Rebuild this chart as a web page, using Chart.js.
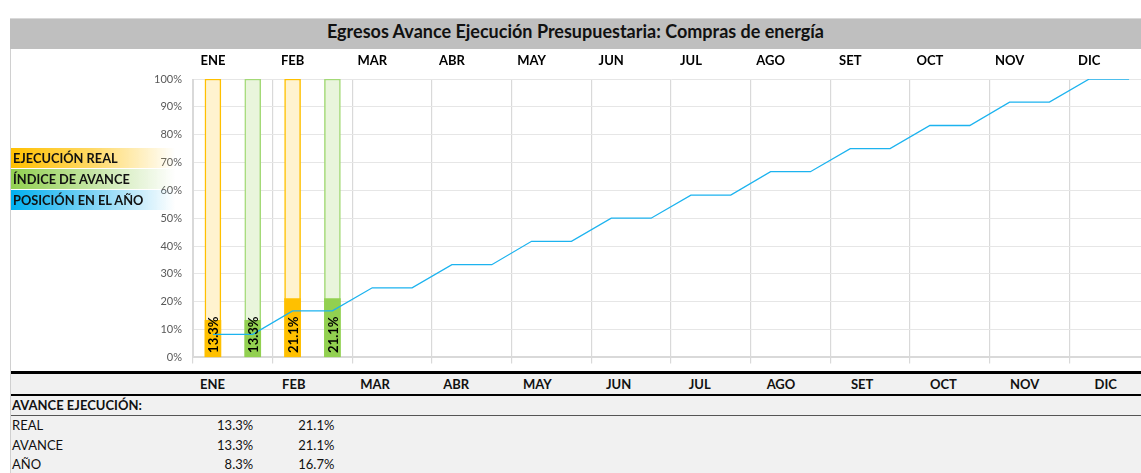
<!DOCTYPE html>
<html>
<head>
<meta charset="utf-8">
<script src="https://cdn.jsdelivr.net/npm/chart.js@4.4.1/dist/chart.umd.min.js"></script>
<style>
  body { margin: 0; width: 1141px; height: 473px; overflow: hidden; background: #fff; font-family: Lato, "Open Sans", sans-serif; position: relative; }
  #frame { position: absolute; left: 10px; top: 18px; width: 1131px; height: 455px; border-left: 1px solid #d0d0d0; }
  #title { position: absolute; left: 10px; top: 18px; width: 1131px; height: 30px; background: #bfbfbf; border-top: 1px solid #d9d9d9; text-align: center; font-weight: bold; font-size: 18px; line-height: 24px; color: #111; }
  #chartBox { position: absolute; left: 0; top: 48px; width: 1160px; height: 327px; }
  .leg { position: absolute; left: 11px; width: 162px; height: 20px; font-weight: bold; font-size: 12.8px; line-height: 20px; padding-left: 2px; color: #111; }
  #tabla { position: absolute; left: 11px; top: 371px; width: 1130px; height: 102px; background: #f1f1f1; border-top: 3px solid #000; }
  .row { position: absolute; left: 0; width: 1130px; height: 20px; font-size: 13px; line-height: 20px; color: #111; }
  .cell { position: absolute; width: 81.2px; }
</style>
</head>
<body>
<div id="frame"></div>
<div id="title">Egresos Avance Ejecución Presupuestaria: Compras de energía</div>
<div id="chartBox"><canvas id="chart"></canvas></div>
<div class="leg" style="top:148px;background:linear-gradient(90deg,#ffc000 0%,#ffd966 50%,rgba(255,255,255,0) 100%)">EJECUCIÓN REAL</div>
<div class="leg" style="top:169px;background:linear-gradient(90deg,#92d050 0%,#c5e5a5 50%,rgba(255,255,255,0) 100%)">ÍNDICE DE AVANCE</div>
<div class="leg" style="top:190px;background:linear-gradient(90deg,#00b0f0 0%,#7fd3f5 50%,rgba(255,255,255,0) 100%)">POSICIÓN EN EL AÑO</div>
<div id="tabla"></div>
<script>
const meses = ['ENE', 'FEB', 'MAR', 'ABR', 'MAY', 'JUN', 'JUL', 'AGO', 'SET', 'OCT', 'NOV', 'DIC'];
const ejecucionReal = [13.3, 21.1];
const indiceAvance = [13.3, 21.1];
const posicionAnio = [8.3, 16.7, 25, 33.3, 41.7, 50, 58.3, 66.7, 75, 83.3, 91.7, 100];
const yTicks = [0, 10, 20, 30, 40, 50, 60, 70, 80, 90, 100];

// each month takes two slots: real bar, then avance bar
const slots = [];
const topLabels = [];
meses.forEach(m => { slots.push(m + '-r', m + '-a'); topLabels.push(m, ''); });

const realData = slots.map((s, i) => i % 2 === 0 ? (ejecucionReal[i / 2] ?? null) : null);
const avanceData = slots.map((s, i) => i % 2 === 1 ? (indiceAvance[(i - 1) / 2] ?? null) : null);
const realFondo = realData.map(v => v === null ? null : 100);
const avanceFondo = avanceData.map(v => v === null ? null : 100);
const lineaAnio = slots.map((s, i) => posicionAnio[Math.floor(i / 2)]);

// bar labels, rotated, at base
const barLabels = {
  id: 'barLabels',
  afterDatasetsDraw(chart) {
    const ctx = chart.ctx;
    [2, 3].forEach(di => {
      const meta = chart.getDatasetMeta(di);
      meta.data.forEach((bar, i) => {
        const v = chart.data.datasets[di].data[i];
        if (v === null) return;
        ctx.save();
        ctx.translate(bar.x, bar.base - 4);
        ctx.rotate(-Math.PI / 2);
        ctx.font = 'bold 13px Lato';
        ctx.fillStyle = '#000';
        ctx.textAlign = 'left';
        ctx.textBaseline = 'middle';
        ctx.fillText(v.toFixed(1) + '%', 0, 1);
        ctx.restore();
      });
    });
  }
};

new Chart(document.getElementById('chart'), {
  data: {
    labels: slots,
    datasets: [
      { type: 'bar', data: realFondo, backgroundColor: '#fff3cf', borderColor: '#ffc000', borderWidth: 1.5, barThickness: 16, grouped: false, order: 5 },
      { type: 'bar', data: avanceFondo, backgroundColor: '#e9f5dc', borderColor: '#a3d977', borderWidth: 1.5, barThickness: 16, grouped: false, order: 5 },
      { type: 'bar', data: realData, backgroundColor: '#ffc000', barThickness: 16, grouped: false, order: 3 },
      { type: 'bar', data: avanceData, backgroundColor: '#92d050', barThickness: 16, grouped: false, order: 3 },
      { type: 'line', data: lineaAnio, borderColor: '#1cb3ef', borderWidth: 1.3, pointRadius: 0, tension: 0, order: 1 }
    ]
  },
  options: {
    responsive: true,
    maintainAspectRatio: false,
    animation: false,
    layout: { padding: { left: 0, right: 11, top: 0, bottom: 0 } },
    plugins: { legend: { display: false }, tooltip: { enabled: false } },
    scales: {
      x: {
        position: 'bottom',
        offset: true,
        ticks: { display: false },
        grid: {
          offset: true,
          color: c => c.index % 2 === 0 ? '#d9d9d9' : 'rgba(0,0,0,0)',
          lineWidth: 1.2,
          drawTicks: true,
          tickLength: 6
        },
        border: { color: '#d9d9d9', width: 2 },
        afterFit: s => { s.height = 13; }
      },
      xTop: {
        type: 'category',
        position: 'top',
        labels: topLabels,
        offset: true,
        grid: { display: false, drawTicks: false },
        border: { display: false },
        ticks: { autoSkip: false, maxRotation: 0, padding: 10, color: '#000', font: { family: 'Lato', weight: 'bold', size: 13 } },
        afterFit: s => { s.height = 31; }
      },
      y: {
        min: 0,
        max: 100,
        afterBuildTicks: s => { s.ticks = yTicks.map(v => ({ value: v })); },
        ticks: { callback: v => v + '%', color: '#595959', padding: 11, font: { family: 'Lato', size: 11 } },
        grid: { color: '#e6e6e6', drawTicks: false },
        border: { color: '#d9d9d9' },
        afterFit: s => { s.width = 193; }
      }
    }
  },
  plugins: [barLabels]
});

// table below chart
const tabla = document.getElementById('tabla');
const colLeft = 161;
const colW = 81.2;
function fila(top, label, vals, opts) {
  const r = document.createElement('div');
  r.className = 'row';
  r.style.top = top + 'px';
  if (opts.bold) r.style.fontWeight = 'bold';
  if (opts.border) r.style.borderBottom = opts.border;
  const l = document.createElement('div');
  l.className = 'cell';
  l.style.left = '1px';
  l.style.width = '160px';
  l.textContent = label;
  r.appendChild(l);
  vals.forEach((v, i) => {
    const c = document.createElement('div');
    c.className = 'cell';
    c.style.left = (colLeft + i * colW) + 'px';
    c.style.textAlign = opts.center ? 'center' : 'right';
    c.textContent = v;
    r.appendChild(c);
  });
  tabla.appendChild(r);
}
const pct = v => v.toFixed(1) + '%';
fila(0, '', meses, { bold: true, center: true, border: '2px solid #000' });
fila(21, 'AVANCE EJECUCIÓN:', [], { bold: true, border: '1px solid #555' });
fila(41, 'REAL', ejecucionReal.map(pct), {});
fila(61, 'AVANCE', indiceAvance.map(pct), {});
fila(80, 'AÑO', posicionAnio.slice(0, ejecucionReal.length).map(pct), {});
</script>
</body>
</html>
